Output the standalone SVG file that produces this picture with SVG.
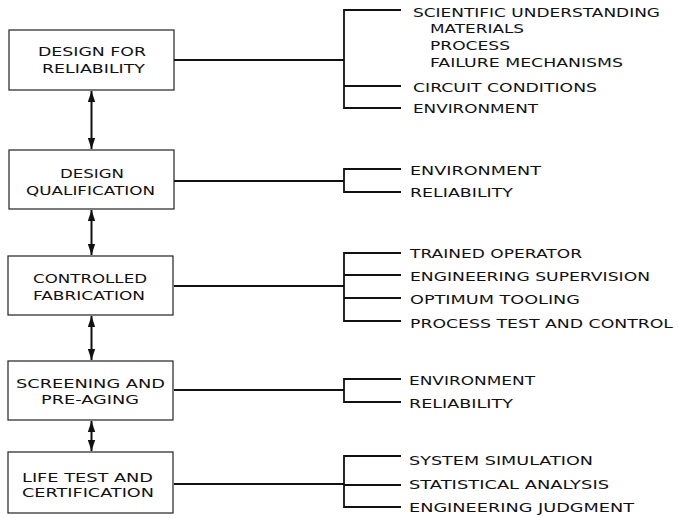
<svg xmlns="http://www.w3.org/2000/svg" width="678" height="518" viewBox="0 0 678 518">
<style>
.box{fill:#fff;stroke:#222;stroke-width:1.2}
.t{font-family:"DejaVu Sans","Liberation Sans",sans-serif;font-size:13px;fill:#111}
.main{stroke:#111;stroke-width:2.2;fill:none}
.br{stroke:#111;stroke-width:1.8;fill:none}
.arr{stroke:#111;stroke-width:2;fill:none;marker-start:url(#ah);marker-end:url(#ah)}
</style>
<defs>
<marker id="ah" viewBox="0 0 12 8" refX="12" refY="4" markerWidth="5.5" markerHeight="4" orient="auto-start-reverse"><path d="M0,0 L12,4 L0,8 Z" fill="#111"/></marker>
</defs>
<rect width="678" height="518" fill="#fff"/>
<g id="connectors">
<line class="arr" x1="91.5" y1="91" x2="91.5" y2="149"/>
<line class="arr" x1="91.5" y1="210" x2="91.5" y2="255"/>
<line class="arr" x1="91.5" y1="316" x2="91.5" y2="360"/>
<line class="arr" x1="91.5" y1="421" x2="91.5" y2="451"/>
<line class="main" x1="174" y1="60" x2="344" y2="60"/>
<path class="br" d="M401,10 H344 V108 H401 M344,86 H401"/>
<line class="main" x1="174" y1="181" x2="344" y2="181"/>
<path class="br" d="M401,169 H344 V192 H401"/>
<line class="main" x1="174" y1="286" x2="344" y2="286"/>
<path class="br" d="M401,253 H344 V321 H401 M344,275 H401 M344,298 H401"/>
<line class="main" x1="174" y1="390" x2="344" y2="390"/>
<path class="br" d="M401,379 H344 V402 H401"/>
<line class="main" x1="174" y1="484" x2="344" y2="484"/>
<path class="br" d="M401,456 H344 V507 H401 M344,485 H401"/>
</g>
<g id="node-design-for-reliability">
<rect class="box" x="9" y="30" width="165" height="60"/>
<text class="t" x="38" y="56" textLength="108" lengthAdjust="spacingAndGlyphs">DESIGN FOR</text>
<text class="t" x="42" y="73" textLength="103" lengthAdjust="spacingAndGlyphs">RELIABILITY</text>
</g>
<g id="node-design-qualification">
<rect class="box" x="9" y="150" width="165" height="59"/>
<text class="t" x="60" y="178" textLength="64" lengthAdjust="spacingAndGlyphs">DESIGN</text>
<text class="t" x="26" y="195" textLength="129" lengthAdjust="spacingAndGlyphs">QUALIFICATION</text>
</g>
<g id="node-controlled-fabrication">
<rect class="box" x="8" y="256" width="165" height="59"/>
<text class="t" x="33" y="283" textLength="114" lengthAdjust="spacingAndGlyphs">CONTROLLED</text>
<text class="t" x="33" y="300" textLength="112" lengthAdjust="spacingAndGlyphs">FABRICATION</text>
</g>
<g id="node-screening">
<rect class="box" x="8" y="361" width="165" height="59"/>
<text class="t" x="16" y="388" textLength="149" lengthAdjust="spacingAndGlyphs">SCREENING AND</text>
<text class="t" x="41" y="404" textLength="98" lengthAdjust="spacingAndGlyphs">PRE-AGING</text>
</g>
<g id="node-life-test">
<rect class="box" x="8" y="452" width="165" height="61"/>
<text class="t" x="22" y="482" textLength="131" lengthAdjust="spacingAndGlyphs">LIFE TEST AND</text>
<text class="t" x="22" y="497" textLength="132" lengthAdjust="spacingAndGlyphs">CERTIFICATION</text>
</g>
<g id="labels-reliability">
<text class="t" x="413" y="17" textLength="247" lengthAdjust="spacingAndGlyphs">SCIENTIFIC UNDERSTANDING</text>
<text class="t" x="430" y="33" textLength="94" lengthAdjust="spacingAndGlyphs">MATERIALS</text>
<text class="t" x="430" y="50" textLength="80" lengthAdjust="spacingAndGlyphs">PROCESS</text>
<text class="t" x="430" y="67" textLength="193" lengthAdjust="spacingAndGlyphs">FAILURE MECHANISMS</text>
<text class="t" x="413" y="92" textLength="184" lengthAdjust="spacingAndGlyphs">CIRCUIT CONDITIONS</text>
<text class="t" x="413" y="113" textLength="125" lengthAdjust="spacingAndGlyphs">ENVIRONMENT</text>
</g>
<g id="labels-qualification">
<text class="t" x="410" y="175" textLength="131" lengthAdjust="spacingAndGlyphs">ENVIRONMENT</text>
<text class="t" x="410" y="197" textLength="103" lengthAdjust="spacingAndGlyphs">RELIABILITY</text>
</g>
<g id="labels-fabrication">
<text class="t" x="410" y="258" textLength="172" lengthAdjust="spacingAndGlyphs">TRAINED OPERATOR</text>
<text class="t" x="410" y="281" textLength="240" lengthAdjust="spacingAndGlyphs">ENGINEERING SUPERVISION</text>
<text class="t" x="410" y="304" textLength="170" lengthAdjust="spacingAndGlyphs">OPTIMUM TOOLING</text>
<text class="t" x="410" y="328" textLength="263" lengthAdjust="spacingAndGlyphs">PROCESS TEST AND CONTROL</text>
</g>
<g id="labels-screening">
<text class="t" x="409" y="385" textLength="126" lengthAdjust="spacingAndGlyphs">ENVIRONMENT</text>
<text class="t" x="409" y="408" textLength="104" lengthAdjust="spacingAndGlyphs">RELIABILITY</text>
</g>
<g id="labels-life-test">
<text class="t" x="409" y="465" textLength="184" lengthAdjust="spacingAndGlyphs">SYSTEM SIMULATION</text>
<text class="t" x="409" y="489" textLength="200" lengthAdjust="spacingAndGlyphs">STATISTICAL ANALYSIS</text>
<text class="t" x="409" y="512" textLength="225" lengthAdjust="spacingAndGlyphs">ENGINEERING JUDGMENT</text>
</g>
</svg>
